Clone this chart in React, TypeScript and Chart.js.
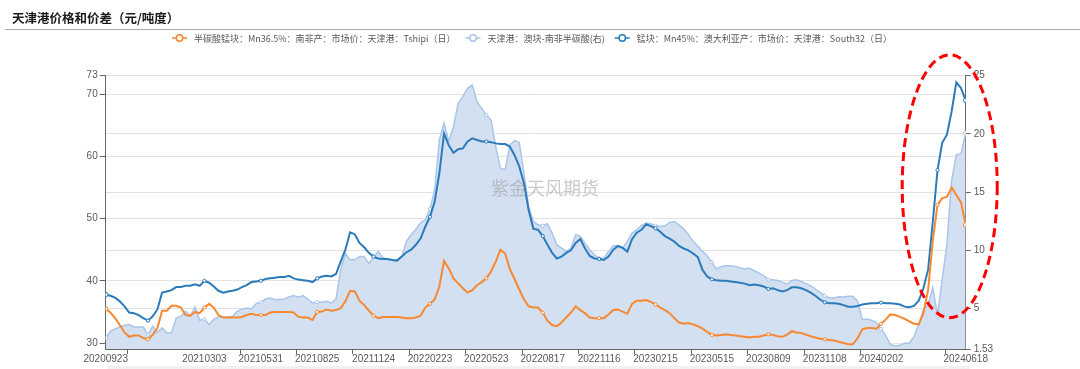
import React, { useEffect, useRef } from "react";
import { Chart, registerables } from "chart.js";
Chart.register(...registerables);

// x axis: index of sample (about one sample per 5 trading days)
const tickLabels = ["20200923", "20210303", "20210531", "20210825", "20211124", "20220223", "20220523", "20220817", "20221116", "20230215", "20230515", "20230809", "20231108", "20240202", "20240618"];
const tickIndex = [0, 21, 33, 45, 57, 69, 81, 93, 105, 117, 129, 141, 153, 165, 183];
const tickMarkIndex = [4.5, 28.5, 40.5, 52.5, 64.5, 76.5, 88.5, 100.5, 112.5, 124.5, 136.5, 148.5, 160.5, 178.5];

const leftTicks = [30, 40, 50, 60, 70, 73];
const rightTicks = [1.53, 5, 10, 15, 20, 25];

const seriesNames = [
  "半碳酸锰块：Mn36.5%：南非产：市场价：天津港：Tshipi（日）",
  "天津港：澳块-南非半碳酸(右)",
  "锰块：Mn45%：澳大利亚产：市场价：天津港：South32（日）",
];

// 半碳酸锰块 Tshipi (left axis)
const tshipi = [
  35.5, 34.9, 34.0, 32.9, 31.7, 31.0, 31.2, 31.2, 30.8, 30.6,
  31.3, 32.4, 35.2, 35.2, 36.0, 36.0, 35.7, 34.5, 34.4, 35.0,
  34.8, 35.7, 36.3, 35.7, 34.5, 34.1, 34.1, 34.1, 34.1, 34.2,
  34.5, 34.7, 34.5, 34.5, 34.5, 34.9, 35.0, 35.0, 35.0, 35.0,
  34.9, 34.2, 34.1, 34.1, 33.7, 35.0, 35.05, 35.4, 35.2, 35.3,
  35.6, 36.7, 38.4, 38.3, 36.8, 36.1, 35.2, 34.4, 34.0, 34.2,
  34.2, 34.2, 34.2, 34.1, 34.0, 34.0, 34.1, 34.4, 35.7, 36.3,
  37.0, 39.1, 43.2, 42.0, 40.4, 39.6, 38.8, 38.1, 38.5, 39.3,
  39.8, 40.4, 41.5, 43.1, 45.0, 44.4, 41.9, 40.3, 38.6, 37.0,
  35.9, 35.7, 35.7, 34.9, 33.6, 32.9, 32.7, 33.3, 34.1, 34.9,
  35.9, 35.3, 34.8, 34.1, 34.0, 34.0, 34.0, 34.6, 35.3, 35.4,
  35.05, 34.7, 36.3, 36.8, 36.8, 36.9, 36.6, 36.2, 35.7, 35.3,
  34.8, 34.0, 33.3, 33.1, 33.2, 33.0, 32.7, 32.3, 31.8, 31.3,
  31.2, 31.3, 31.4, 31.3, 31.2, 31.1, 31.0, 30.9, 31.0, 31.0,
  31.2, 31.4, 31.3, 31.1, 31.0, 31.35, 31.9, 31.7, 31.6, 31.35,
  31.1, 30.9, 30.7, 30.6, 30.5, 30.4, 30.2, 30.0, 29.8, 29.8,
  30.8, 32.2, 32.4, 32.4, 32.3, 33.1, 33.8, 34.6, 34.5, 34.2,
  33.9, 33.5, 33.1, 33.0, 34.8, 38.5, 46.5, 52.2, 53.3, 53.5,
  55.0, 53.8, 52.6, 49.0,
];

// 天津港：澳块-南非半碳酸 spread (right axis)
const spread = [
  2.48, 3.05, 3.25, 3.42, 3.54, 3.62, 3.42, 3.42, 3.42, 2.77,
  3.48, 2.97, 3.34, 2.91, 2.91, 4.19, 4.34, 4.77, 4.34, 5.14,
  3.99, 4.1, 3.62, 4.1, 4.28, 4.28, 4.28, 4.34, 4.77, 4.97,
  5.05, 4.97, 5.42, 5.54, 5.82, 5.91, 5.77, 5.77, 5.82, 6.0,
  6.11, 5.97, 6.11, 5.82, 5.48, 5.55, 5.54, 5.62, 5.48, 5.82,
  8.34, 9.71, 9.19, 9.19, 9.48, 9.48, 8.85, 9.42, 9.88, 9.39,
  9.19, 9.19, 9.19, 9.48, 10.77, 11.34, 11.82, 12.39, 12.62, 13.54,
  15.19, 19.48, 20.91, 19.34, 20.62, 22.62, 23.19, 23.91, 24.19, 22.77,
  22.19, 21.62, 21.19, 18.91, 17.05, 16.91, 19.05, 19.42, 19.25, 16.62,
  13.77, 12.48, 12.19, 12.11, 12.28, 11.48, 10.48, 10.19, 9.91, 10.19,
  11.34, 11.19, 10.62, 10.05, 9.62, 9.31, 9.34, 9.91, 10.39, 10.39,
  10.19, 10.77, 11.48, 11.77, 12.14, 12.34, 12.28, 12.11, 12.05, 12.11,
  12.39, 12.48, 12.19, 11.82, 11.34, 10.77, 10.34, 9.91, 9.54, 8.97,
  8.39, 8.62, 8.68, 8.68, 8.62, 8.48, 8.42, 8.46, 8.25, 8.05,
  7.82, 7.48, 7.48, 7.42, 7.25, 7.11, 7.42, 7.48, 7.34, 7.14,
  6.97, 6.68, 6.39, 6.11, 5.91, 5.91, 6.02, 6.0, 6.05, 6.05,
  5.62, 4.05, 4.11, 3.99, 3.82, 3.25, 2.68, 1.91, 1.79, 1.85,
  2.02, 2.02, 2.62, 3.6, 4.9, 5.3, 6.8, 4.4, 7.5, 10.5,
  16.0, 18.2, 18.3, 20.05,
];

// 锰块 South32 (left axis)
const south32 = [
  37.8, 37.6, 37.3, 36.7, 35.9, 34.9, 34.8, 34.5, 34.0, 33.6,
  34.3, 35.4, 38.1, 38.3, 38.5, 39.0, 39.0, 39.2, 39.2, 39.45,
  39.2, 40.0, 39.7, 39.1, 38.4, 38.1, 38.3, 38.4, 38.6, 39.0,
  39.3, 39.8, 39.9, 40.0, 40.3, 40.4, 40.5, 40.6, 40.6, 40.8,
  40.4, 40.2, 40.1, 40.0, 39.8, 40.4, 40.7, 40.8, 40.7, 41.1,
  43.1, 45.0, 47.8, 47.5, 46.1, 45.4, 44.5, 43.9, 43.6, 43.5,
  43.5, 43.35, 43.25, 43.9, 44.6, 45.0, 45.8, 46.8, 48.7, 50.3,
  52.7, 57.3, 63.7, 61.8, 60.6, 61.15, 61.3, 62.4, 62.9, 62.65,
  62.4, 62.4, 62.3, 62.1, 62.0, 62.0, 61.6, 60.2, 58.4, 55.7,
  51.4, 48.4, 48.2, 47.2, 45.8, 44.5, 43.6, 43.9, 44.5, 44.9,
  46.1, 46.7, 45.2, 44.0, 43.6, 43.5, 43.35, 43.9, 45.0, 45.6,
  45.3, 44.7, 46.7, 47.75, 48.2, 49.1, 48.8, 48.45, 47.9, 47.2,
  46.8, 46.3, 45.6, 45.2, 44.9, 44.4, 43.8, 41.75, 40.7, 40.25,
  40.1, 40.0, 40.0, 39.9, 39.8, 39.7, 39.55, 39.3, 39.4, 39.3,
  39.1, 38.7, 38.8, 38.5, 38.3, 38.5, 38.96, 38.96, 38.8, 38.5,
  38.1, 37.6, 37.0, 36.55, 36.4, 36.4, 36.3, 36.1, 35.85, 35.85,
  35.96, 36.2, 36.3, 36.4, 36.4, 36.5, 36.4, 36.4, 36.3, 36.2,
  35.85, 35.75, 35.96, 36.8, 38.8, 41.8, 49.5, 57.8, 62.2, 63.5,
  67.2, 71.9, 71.0, 69.0,
];

const ORANGE = "#F7882F";
const LIGHT = "#AAC5EA";
const LIGHT_FILL = "#D3E0F2";
const BLUE = "#2B7BBA";
const colors = [ORANGE, LIGHT, BLUE];
const CJK = "'Noto Sans CJK SC', 'Noto Sans', sans-serif";
const NUM = "'Liberation Sans', Arial, sans-serif";

export default function App() {
  const ref = useRef<HTMLCanvasElement | null>(null);

  useEffect(() => {
    document.body.style.margin = "0";
    const canvas = ref.current;
    if (!canvas) return;
    const last = tshipi.length - 1;
    const toPts = (arr: number[]) => arr.map((y, i) => ({ x: i, y }));
    const radius = (ctx: any) => {
      const i = ctx.dataIndex;
      if (i === 0 || i === last) return 2.3;
      return i >= 9 && (i - 9) % 12 === 0 ? 1.6 : 0;
    };

    const decor = {
      id: "decor",
      afterDatasetDraw(chart: any, args: any) {
        if (args.index !== 1) return;
        const { ctx, scales } = chart;
        ctx.save();
        ctx.font = `18px ${CJK}`;
        ctx.fillStyle = "rgba(150,150,150,0.5)";
        ctx.textAlign = "center";
        ctx.textBaseline = "middle";
        ctx.fillText("紫金天风期货", scales.x.getPixelForValue(93.5), scales.y.getPixelForValue(54.9));
        ctx.restore();
      },
      afterDraw(chart: any) {
        const { ctx, scales, chartArea } = chart;
        ctx.save();
        // title
        ctx.font = `bold 12.5px ${CJK}`;
        ctx.fillStyle = "#1a1a1a";
        ctx.textAlign = "left";
        ctx.textBaseline = "middle";
        ctx.fillText("天津港价格和价差（元/吨度）", 12, 18);
        ctx.strokeStyle = "#A8A8A8";
        ctx.lineWidth = 1.2;
        ctx.beginPath();
        ctx.moveTo(5, 29.5);
        ctx.lineTo(1080, 29.5);
        ctx.stroke();

        // legend
        ctx.font = `9px ${CJK}`;
        const markW = 15, gapT = 7, gapI = 10;
        const widths = seriesNames.map((n) => markW + gapT + ctx.measureText(n).width);
        const total = widths.reduce((a, b) => a + b, 0) + gapI * (widths.length - 1);
        let lx = 532 - total / 2;
        const ly = 38;
        seriesNames.forEach((n, i) => {
          ctx.strokeStyle = colors[i];
          ctx.lineWidth = 1.5;
          ctx.beginPath();
          ctx.moveTo(lx, ly);
          ctx.lineTo(lx + markW, ly);
          ctx.stroke();
          ctx.beginPath();
          ctx.arc(lx + markW / 2, ly, 3.2, 0, Math.PI * 2);
          ctx.fillStyle = "#fff";
          ctx.fill();
          ctx.stroke();
          ctx.fillStyle = "#595959";
          ctx.textBaseline = "middle";
          ctx.fillText(n, lx + markW + gapT, ly + 0.5);
          lx += widths[i] + gapI;
        });

        // x tick marks
        ctx.strokeStyle = "#666";
        ctx.lineWidth = 1;
        tickMarkIndex.forEach((v) => {
          const px = Math.round(scales.x.getPixelForValue(v)) + 0.5;
          ctx.beginPath();
          ctx.moveTo(px, chartArea.bottom);
          ctx.lineTo(px, chartArea.bottom + 5);
          ctx.stroke();
        });

        // bottom faint bar
        ctx.fillStyle = "#F1F1F1";
        ctx.fillRect(chartArea.left + 2, 366, chartArea.right - chartArea.left + 2, 3);

        // red dashed ellipse highlighting the latest surge
        const cx = scales.x.getPixelForValue(179.6);
        const cy = scales.y.getPixelForValue(55.2);
        ctx.strokeStyle = "#FF0000";
        ctx.lineWidth = 3;
        ctx.setLineDash([9, 5]);
        ctx.beginPath();
        ctx.ellipse(cx, cy, 47.5, 131.5, 0, 0, Math.PI * 2);
        ctx.stroke();
        ctx.restore();
      },
    };

    const tickFont = { family: NUM, size: 10 };
    const chart = new Chart(canvas, {
      type: "line",
      data: {
        datasets: [
          {
            label: seriesNames[0],
            data: toPts(tshipi),
            yAxisID: "y",
            borderColor: ORANGE,
            borderWidth: 2,
            pointRadius: radius,
            pointBackgroundColor: "#fff",
            pointBorderColor: ORANGE,
            pointBorderWidth: 1,
            fill: false,
            order: 0,
          },
          {
            label: seriesNames[1],
            data: toPts(spread),
            yAxisID: "y1",
            borderColor: LIGHT,
            borderWidth: 1.5,
            backgroundColor: LIGHT_FILL,
            pointRadius: radius,
            pointBackgroundColor: "#fff",
            pointBorderColor: LIGHT,
            pointBorderWidth: 1,
            fill: "start",
            order: 2,
          },
          {
            label: seriesNames[2],
            data: toPts(south32),
            yAxisID: "y",
            borderColor: BLUE,
            borderWidth: 2,
            pointRadius: radius,
            pointBackgroundColor: "#fff",
            pointBorderColor: BLUE,
            pointBorderWidth: 1,
            fill: false,
            order: 1,
          },
        ],
      } as any,
      options: {
        responsive: false,
        animation: false,
        devicePixelRatio: 1,
        layout: { padding: { top: 75.6, left: 0, right: 0, bottom: 0 } },
        plugins: { legend: { display: false }, tooltip: { enabled: false } },
        elements: { line: { tension: 0 } },
        scales: {
          x: {
            type: "linear",
            min: 0,
            max: last,
            afterBuildTicks: (s: any) => {
              s.ticks = tickIndex.map((v) => ({ value: v }));
            },
            afterFit: (s: any) => {
              s.height = 20;
            },
            ticks: {
              autoSkip: false,
              maxRotation: 0,
              padding: 4,
              color: "#595959",
              font: tickFont,
              callback: (v: any) => {
                const k = tickIndex.indexOf(Number(v));
                return k >= 0 ? tickLabels[k] : "";
              },
            },
            grid: { display: false, drawTicks: false },
            border: { display: true, color: "#666", width: 1 },
          },
          y: {
            type: "linear",
            position: "left",
            min: 29.04,
            max: 73,
            afterBuildTicks: (s: any) => {
              s.ticks = leftTicks.map((v) => ({ value: v }));
            },
            afterFit: (s: any) => {
              s.width = 105.7;
            },
            ticks: { padding: 2, color: "#595959", font: tickFont, callback: (v: any) => String(v) },
            grid: { color: "#E2E2E2", tickColor: "#666", tickLength: 6, drawTicks: true },
            border: { display: true, color: "#666", width: 1 },
          },
          y1: {
            type: "linear",
            position: "right",
            min: 1.53,
            max: 25,
            afterBuildTicks: (s: any) => {
              s.ticks = rightTicks.map((v) => ({ value: v }));
            },
            afterFit: (s: any) => {
              s.width = 114.3;
            },
            ticks: { padding: 3, color: "#595959", font: tickFont, callback: (v: any) => String(v) },
            grid: { color: "#E2E2E2", tickColor: "#666", tickLength: 5, drawTicks: true },
            border: { display: true, color: "#666", width: 1 },
          },
        },
      } as any,
      plugins: [decor],
    });
    return () => chart.destroy();
  }, []);

  return (
    <div style={{ position: "fixed", left: 0, top: 0, width: 1080, height: 369, background: "#fff" }}>
      <canvas ref={ref} width={1080} height={369} style={{ display: "block" }} />
    </div>
  );
}
